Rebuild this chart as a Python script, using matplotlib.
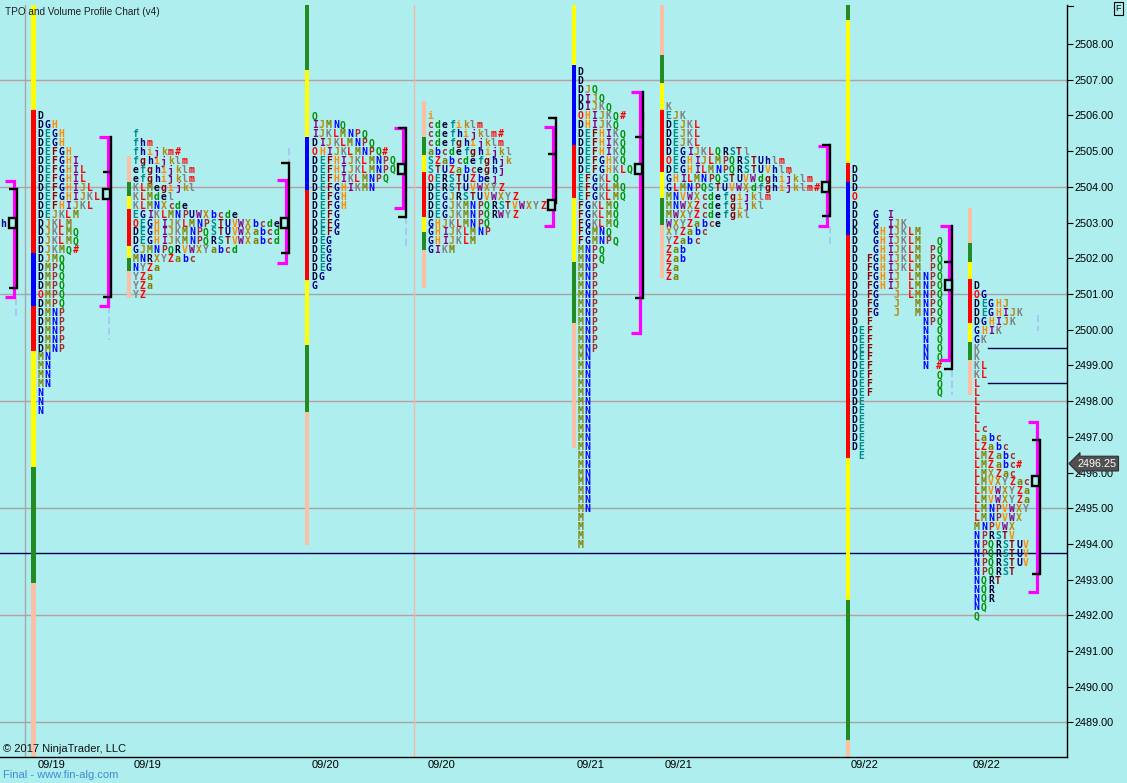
import matplotlib
matplotlib.use('Agg')
import matplotlib.pyplot as plt
from matplotlib.patches import Rectangle
from matplotlib.lines import Line2D

# ---------------- data ----------------
price_ticks = list(range(2489, 2509))
grid_prices_rose = [2507, 2504, 2498, 2492]
grid_prices_gray = [2501, 2495, 2489]
date_labels = ['09/19', '09/19', '09/20', '09/20', '09/21', '09/21', '09/22', '09/22']
last_price = 2496.25
long_line_price = 2493.75
short_line_prices = [2499.5, 2498.5]
tpo_step = 0.25

profile_ids = ['A', 'B', 'C', 'D', 'E', 'F', 'G', 'H', 'I']
row_tops = [2503.0, 2506.0, 2505.5, 2506.0, 2506.0, 2507.25, 2506.25, 2504.5, 2501.25]

A_rows = ['h']
B_rows = ['D', 'DGH', 'DEGH', 'DEGH', 'DEFGH', 'DEFGHI', 'DEFGHIL', 'DEFGHIL', 'DEFGHIJL',
          'DEFGHIJKL', 'DEFHIJKL', 'DEJKLM', 'DJKLM', 'DJKLMQ', 'DJKLMQ', 'DJKMQ#', 'DJMQ',
          'DMPQ', 'DMPQ', 'DMPQ', 'OMPQ', 'DMPQ', 'DMNP', 'DMNP', 'DMNP', 'DMNP', 'DMNP',
          'MN', 'MN', 'MN', 'MN', 'N', 'N', 'N']
C_rows = ['f', 'fhm', 'fhijkm#', 'fghijklm', 'efghijklm', 'efghijklm', 'KLMegijkl', 'KLMdel',
          'KLMNXcde', 'EGIKLMNPUWXbcde', 'OEGHIJKLMNPSTUVWXbcde', 'DEGHIJKMNPQSTUVWXabcd',
          'DEGHIJKMNPQRSTVWXabcd', 'GJMNPQRVWXYabcd', 'MNRXYZabc', 'NYZa', 'YZa', 'YZa', 'YZ']
D_rows = ['Q', 'IJMNQ', 'IJKLMNPQ', 'DIJKLMNPQ', 'OHIJKLMNPQ#', 'DEFHIJKLMNPQ', 'DEFHIJKLMNPQ',
          'DEFHIKLMNPQ', 'DEFGHIKMN', 'DEFGH', 'DEFGH', 'DEFG', 'DEFG', 'DEFG', 'DEG', 'DEG',
          'DEG', 'DEG', 'DG', 'G']
E_rows = ['i', 'cdefiklm', 'cdefhijklm#', 'cdefghijklm', 'abcdefghijkl', 'SZabcdefghjk',
          'STUZabceghj', 'OERSTUZbej', 'DERSTUVWXYZ', 'DEGJRSTUVWXYZ', 'DEGJKMNPQRSTVWXYZ',
          'DEGJKMNPQRWYZ', 'GHJKLMNPQ', 'GHIJKLMNP', 'GHIJKLM', 'GIKM']
F_rows = (['D', 'D', 'DJQ', 'DIJQ', 'DIJKQ', 'OHIJKQ#', 'DHIJKQ', 'DEFHIKQ', 'DEFHIKQ',
           'DEFHIKQ', 'DEFGHKQ', 'DEFGHKLQ', 'EFGKLQ', 'EFGKLMQ', 'EFGKLMQ', 'FGKLMQ',
           'FGKLMQ', 'FGKLMQ', 'FGMNQ', 'FGMNPQ', 'MNPQ', 'MNPQ']
          + ['MNP'] * 10 + ['MN'] * 18 + ['M'] * 4)
G_rows = ['K', 'EJK', 'DEJKL', 'DEJKL', 'DEJKL', 'DEGIJKLQRSTl', 'OEGHIJLMPQRSTUhlm',
          'DEGHILMNPQRSTUVhlm', 'GHILMNPQSTUVWdghijklm', 'GLMNPQSTUVWXdfghijklm#',
          'MNVWXcdefgijklm', 'MNWXZcdefgijkl', 'MWXYZcdefgkl', 'WXYZabce', 'XYZabc', 'YZabc',
          'Zab', 'Zab', 'Za', 'Za']
# '.' marks an empty period column
H_rows = ['D', 'D', 'D', 'O', 'D', 'D..G.I', 'D..G.IJK', 'D..GHIJKLM', 'D..GHIJKLM..Q',
          'D..GHIJKLM.PQ', 'D.FGHIJKLM.PQ', 'D.FGHIJKLM.PQ', 'D.FGHIJ.LMNPQ', 'D.FGHIJ.LMNPQ',
          'D.FG..J.LMNPQ', 'D.FG..J..MNPQ', 'D.FG..J..MNPQ', 'D.F.......NPQ', 'DEF.......N.Q',
          'DEF.......N.Q', 'DEF.......N.Q', 'DEF.......N.Q', 'DEF.......N.#', 'DEF.........Q',
          'DEF.........Q', 'DEF.........Q', 'DE', 'DE', 'DE', 'DE', 'DE', 'DE', '.E']
I_rows = ['D', 'OG', 'DEGHJ', 'DEGHIJK', 'DGHIJK', 'GHIK', 'GK', 'K', 'K', 'KL', 'KL', 'L', 'L',
          'L', 'L', 'L', 'Lc', 'Labc', 'LZabc', 'LMZabc', 'LMZabc#', 'LMXZac', 'LMVXYZac',
          'LMVWXYZa', 'LMVWXYZa', 'LMNPVWXY', 'LMNPVWX', 'MNPVWX', 'NPRSTV', 'NPQRSTUV',
          'NPQRSTUV', 'NPQRSTUV', 'NPQRST', 'NQRT', 'NQR', 'NQR', 'NQ', 'Q']
all_rows = [A_rows, B_rows, C_rows, D_rows, E_rows, F_rows, G_rows, H_rows, I_rows]

# colour bars beside each profile: (upper price, lower price, colour code)
B_bar = [(2509.2, 2506.14, 'Y'), (2506.14, 2502.14, 'R'), (2502.14, 2500.67, 'B'),
         (2500.67, 2499.41, 'R'), (2499.41, 2496.15, 'Y'), (2496.15, 2492.90, 'G'),
         (2492.90, 2488.0, 'S')]
C_bar = [(2504.87, 2504.14, 'S'), (2504.14, 2503.75, 'G'), (2503.75, 2503.37, 'Y'),
         (2503.37, 2502.35, 'R'), (2502.35, 2502.02, 'Y'), (2502.02, 2501.65, 'G'),
         (2501.65, 2500.90, 'S')]
D_bar = [(2509.2, 2507.27, 'G'), (2507.27, 2505.40, 'Y'), (2505.40, 2503.91, 'B'),
         (2503.91, 2501.39, 'R'), (2501.39, 2499.57, 'Y'), (2499.57, 2497.69, 'G'),
         (2497.69, 2493.97, 'S')]
E_bar = [(2506.40, 2505.40, 'S'), (2505.40, 2504.89, 'G'), (2504.89, 2504.42, 'Y'),
         (2504.42, 2503.16, 'R'), (2503.16, 2502.74, 'Y'), (2502.74, 2502.23, 'G'),
         (2502.23, 2501.17, 'S')]
F_bar = [(2509.2, 2507.41, 'Y'), (2507.41, 2505.17, 'B'), (2505.17, 2503.69, 'R'),
         (2503.69, 2501.90, 'Y'), (2501.90, 2500.18, 'G'), (2500.18, 2496.68, 'S')]
G_bar = [(2509.2, 2507.69, 'S'), (2507.69, 2506.91, 'G'), (2506.91, 2506.15, 'Y'),
         (2506.15, 2504.42, 'R'), (2504.42, 2503.68, 'Y'), (2503.68, 2502.93, 'G'),
         (2502.93, 2501.45, 'S')]
H_bar = [(2509.2, 2508.67, 'G'), (2508.67, 2504.67, 'Y'), (2504.67, 2504.14, 'R'),
         (2504.14, 2502.65, 'B'), (2502.65, 2496.40, 'R'), (2496.40, 2492.43, 'Y'),
         (2492.43, 2488.51, 'G'), (2488.51, 2488.0, 'S')]
I_bar = [(2503.41, 2502.42, 'S'), (2502.42, 2501.90, 'G'), (2501.90, 2501.42, 'Y'),
         (2501.42, 2500.18, 'R'), (2500.18, 2499.66, 'Y'), (2499.66, 2499.15, 'G'),
         (2499.15, 2498.17, 'S')]
all_bars = [[], B_bar, C_bar, D_bar, E_bar, F_bar, G_bar, H_bar, I_bar]

# value-area brackets
mag_top = [2504.17, 2505.40, 2504.19, 2505.66, 2505.67, 2506.66, 2505.14, 2502.90, 2497.42]
mag_bottom = [2500.91, 2500.67, 2501.88, 2503.40, 2502.90, 2499.92, 2502.90, 2499.15, 2492.66]
blk_top = [2503.94, 2505.40, 2504.68, 2505.66, 2505.92, 2506.66, 2505.17, 2502.90, 2496.92]
blk_bottom = [2501.17, 2500.91, 2502.16, 2503.16, 2503.55, 2500.90, 2503.17, 2498.90, 2493.16]
blk_ticks = [[2503.94, 2501.17], [2504.42, 2500.91], [2504.68, 2502.16], [2505.66, 2503.16],
             [2505.92, 2504.91, 2503.55], [2505.40, 2500.90], [2505.17, 2503.17],
             [2501.90, 2498.90], [2496.92, 2493.16]]
poc_price = [2503.0, 2503.8, 2503.0, 2504.5, 2503.5, 2504.5, 2504.0, 2501.25, 2495.75]
# short light-blue extensions (upper, lower)
ext_ranges = [(2500.9, 2500.3), (2500.65, 2499.7), (2505.1, 2504.7), (2503.15, 2502.35),
              None, (2506.1, 2505.75), (2502.9, 2502.4), (2498.88, 2498.17), (2500.4, 2499.95)]

# ---------------- layout / style ----------------
W, H = 1127, 783
BG = '#AFEEEE'
px_per_pt = 35.71
Y_HI = 2508 + (44 - 5) / px_per_pt
Y_LO = 2508 - (757 - 44) / px_per_pt
col_w = 7.05
letter_x0 = [-0.2, 37.3, 132.7, 312.0, 427.7, 577.3, 665.7, 851.7, 974.0]
bar_x = [None, 33.5, 129.0, 307.0, 423.7, 574.0, 662.0, 848.0, 970.0]
mag_x = [14.0, 107.5, 285.5, 403.0, 553.0, 639.5, 827.0, 949.0, 1037.0]
blk_x = [16.5, 110.5, 288.5, 405.5, 555.5, 642.5, 829.5, 952.0, 1039.5]
ext_x = [15.5, 109.0, 288.5, 405.5, None, 644.0, 829.5, 952.0, 1038.0]
date_x = [52, 147, 325, 442, 591, 679, 865, 987]
bar_colors = {'Y': '#FFFF00', 'R': '#FF0000', 'B': '#0000FF', 'G': '#228B22', 'S': '#FBC0A4'}
cycle_colors = ['#000033', '#008B8B', '#8B0000', '#00008B', '#FF8C00', '#800080', '#B8860B',
                '#808080', '#FF0000', '#808000', '#0000FF', '#A52A2A', '#009000']
seq = 'DEFGHIJKLMNPQRSTUVWXYZabcdefghijklm'


def letter_color(ch):
    if ch in ('O', '#'):
        return '#FF0000'
    i = seq.index(ch)
    return cycle_colors[i % 13]


fig = plt.figure(figsize=(W / 100, H / 100), dpi=100)
fig.patch.set_facecolor(BG)
ax = fig.add_axes([0, (H - 757) / H, 1067 / W, (757 - 5) / H])
ax.set_facecolor(BG)
ax.set_xlim(0, 1067)
ax.set_ylim(Y_LO, Y_HI)

for s in ('left', 'top'):
    ax.spines[s].set_visible(False)
for s in ('right', 'bottom'):
    ax.spines[s].set_color('black')
    ax.spines[s].set_linewidth(1.0)

# grid and separators
for gp in grid_prices_rose:
    ax.axhline(gp, color='#BC9CA4', lw=1.0, zorder=0.5)
for gp in grid_prices_gray:
    ax.axhline(gp, color='#A4A4A8', lw=1.0, zorder=0.5)
ax.axvline(25, color='#A8A8A8', lw=1.0, zorder=0.5)
ax.axvline(414, color='#F4B8A8', lw=1.0, zorder=0.5)
ax.axhline(long_line_price, color='#000050', lw=1.0, zorder=0.6)
for sp in short_line_prices:
    ax.plot([988, 1067], [sp, sp], color='#000050', lw=1.0, zorder=0.6)

# colour bars
for bx, segs in zip(bar_x, all_bars):
    for top, bot, code in segs:
        ax.bar(bx, top - bot, bottom=bot, width=4.2, color=bar_colors[code], linewidth=0, zorder=1)

# TPO letters
for x0, top, rows in zip(letter_x0, row_tops, all_rows):
    for r, row in enumerate(rows):
        price = top - r * tpo_step
        for c, ch in enumerate(row):
            if ch == '.':
                continue
            ax.text(x0 + 2.8 + c * col_w, price, ch, ha='center', va='center_baseline',
                    fontsize=7.0, fontweight='bold', family='DejaVu Sans Mono',
                    color=letter_color(ch), zorder=3, clip_on=True)

# brackets
arm = 9
box_h = 10 / px_per_pt
for i in range(len(profile_ids)):
    mx, bx = mag_x[i], blk_x[i]
    if ext_x[i] is not None and ext_ranges[i] is not None:
        ax.plot([ext_x[i]] * 2, list(ext_ranges[i]), color='#A8C4F4', lw=1.3,
                ls=(0, (4, 2)), zorder=1.5)
    ax.plot([mx - arm, mx, mx, mx - arm], [mag_top[i], mag_top[i], mag_bottom[i], mag_bottom[i]],
            color='#FF00FF', lw=2.3, solid_joinstyle='miter', solid_capstyle='butt', zorder=4)
    ax.plot([bx, bx], [blk_top[i], blk_bottom[i]], color='black', lw=1.7,
            solid_capstyle='projecting', zorder=4.2)
    for t in blk_ticks[i]:
        ax.plot([bx - 8, bx], [t, t], color='black', lw=1.7, solid_capstyle='butt', zorder=4.2)
    ax.add_patch(Rectangle((bx - 7.5, poc_price[i] - box_h / 2), 7, box_h, fc=BG,
                           ec='black', lw=1.7, zorder=4.5))

# axes ticks
ax.yaxis.tick_right()
ax.set_yticks(price_ticks)
ax.set_yticklabels([f'{p:.2f}' for p in price_ticks], family='Liberation Sans')
ax.tick_params(axis='y', direction='out', length=4.3, width=0.8, pad=1.2, labelsize=7.8,
               colors='black')
ax.set_xticks(date_x)
ax.set_xticklabels(date_labels, family='Liberation Sans')
ax.tick_params(axis='x', length=0, pad=2.5, labelsize=8, colors='black')

# top tick of price axis
fig.add_artist(Line2D([1067 / W, 1073 / W], [1 - 5.5 / H] * 2, color='black', lw=0.8))

# last price marker
ax.text(1077, last_price, f'{last_price:.2f}', ha='left', va='center', fontsize=7.8,
        family='Liberation Sans', color='white', clip_on=False, zorder=6,
        bbox=dict(boxstyle='larrow,pad=0.22', fc='#505050', ec='#303030', lw=0.8))

# texts
fig.text(5 / W, 1 - 12 / H, 'TPO and Volume Profile Chart (v4)', fontsize=7.2,
         family='Liberation Sans', color='#202020', va='center', ha='left')
fig.text(3 / W, 1 - 749 / H, '\u00a9 2017 NinjaTrader, LLC', fontsize=8,
         family='Liberation Sans', color='#101010', va='center', ha='left')
fig.text(3 / W, 1 - 775 / H, 'Final - www.fin-alg.com', fontsize=8,
         family='Liberation Sans', color='#3C8CD2', va='center', ha='left')
fig.text(1118.5 / W, 1 - 8.5 / H, 'F', fontsize=6.5, family='Liberation Sans', color='black',
         va='center', ha='center',
         bbox=dict(boxstyle='square,pad=0.2', fc=BG, ec='black', lw=0.8))

fig.savefig('out.png', dpi=100, facecolor=BG)
